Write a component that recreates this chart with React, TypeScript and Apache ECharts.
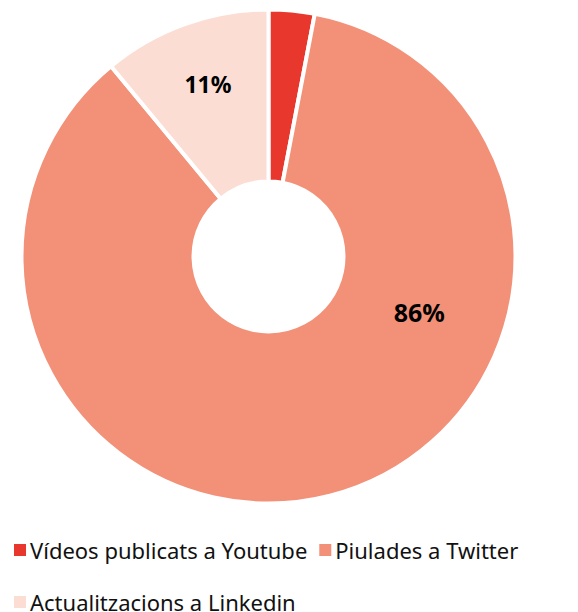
import React, { useEffect, useRef } from "react";
import * as echarts from "echarts";

const categories = ["Vídeos publicats a Youtube", "Piulades a Twitter", "Actualitzacions a Linkedin"];
const values = [3, 86, 11];
const colors = ["#E8372C", "#F39078", "#FBDDD3"];
const labelTexts = ["", "86%", "11%"];

export default function App() {
  const ref = useRef<HTMLDivElement>(null);
  useEffect(() => {
    document.body.style.margin = "0";
    const chart = echarts.init(ref.current!, null, { renderer: "svg" });
    const offsets: number[][] = [[0, 0], [110, -103], [-5, -18]];
    const legendText = { fontSize: 22, color: "#111", fontFamily: "Noto Sans", padding: [0, 0, 0, -2] };
    chart.setOption({
      animation: false,
      color: colors,
      textStyle: { fontFamily: "Noto Sans" },
      legend: [
        {
          data: categories.slice(0, 2),
          left: 7,
          top: 534,
          orient: "horizontal",
          icon: "rect",
          itemWidth: 14,
          itemHeight: 14,
          itemGap: 10,
          selectedMode: false,
          textStyle: legendText,
        },
        {
          data: categories.slice(2),
          left: 7,
          top: 586,
          orient: "horizontal",
          icon: "rect",
          itemWidth: 14,
          itemHeight: 14,
          selectedMode: false,
          textStyle: legendText,
        },
      ],
      series: [
        {
          type: "pie",
          center: [268.5, 256.5],
          radius: [75, 247],
          startAngle: 90,
          clockwise: true,
          avoidLabelOverlap: false,
          itemStyle: { borderColor: "#fff", borderWidth: 4 },
          label: { show: true, position: "inside" },
          labelLine: { show: false },
          emphasis: { disabled: true },
          data: categories.map((name, i) => ({
            name,
            value: values[i],
            label: {
              show: labelTexts[i] !== "",
              formatter: labelTexts[i],
              fontSize: i === 1 ? 25 : 23,
              fontWeight: "bold",
              color: "#000",
              fontFamily: "Noto Sans",
              offset: offsets[i],
            },
          })),
        },
      ],
    });
    return () => chart.dispose();
  }, []);
  return <div ref={ref} style={{ width: 578, height: 612 }} />;
}
